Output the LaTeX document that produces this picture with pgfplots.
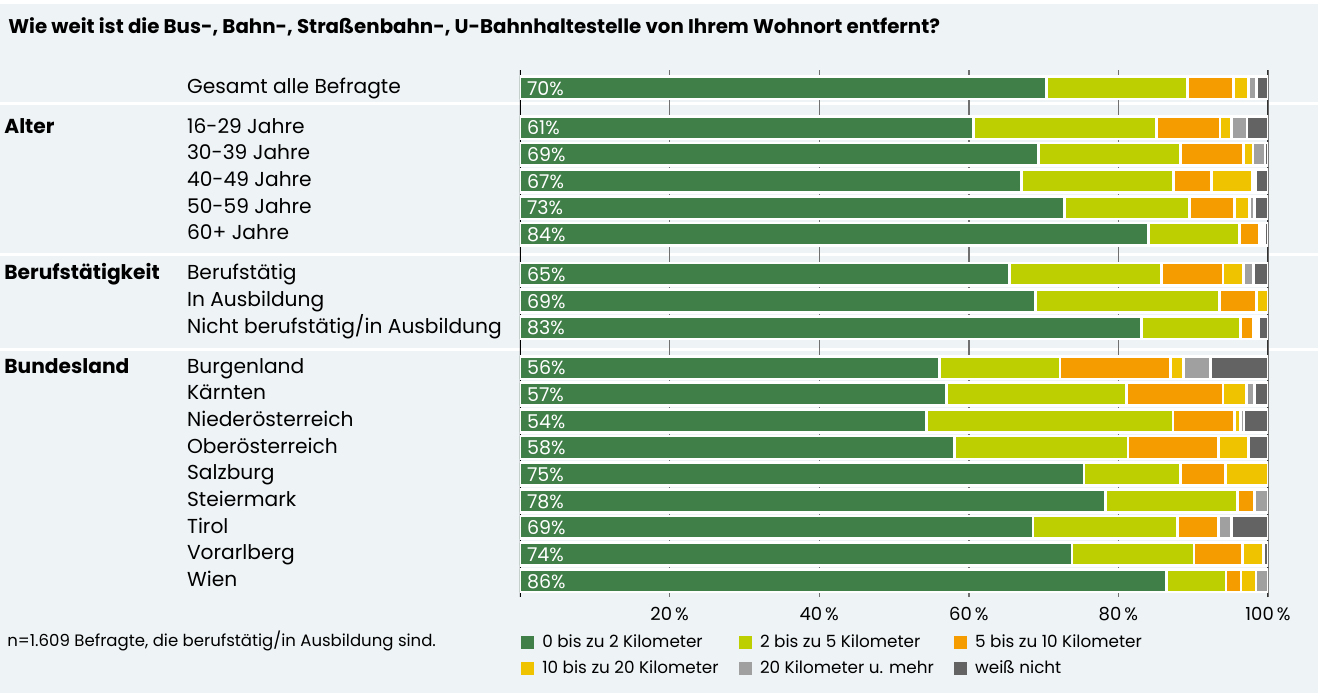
\documentclass[border=0pt]{standalone}
\usepackage{fontspec}
\setmainfont{Poppins}
\usepackage{pgfplots}
\usepackage{pgfplotstable}
\pgfplotsset{compat=1.18}
\definecolor{bg}{HTML}{EEF3F6}
\definecolor{cg}{HTML}{407F48}
\definecolor{cl}{HTML}{BDCF00}
\definecolor{co}{HTML}{F59C00}
\definecolor{cy}{HTML}{EFC300}
\definecolor{cgr}{HTML}{A0A0A0}
\definecolor{cd}{HTML}{636363}
\definecolor{gridc}{HTML}{707070}
\newcommand{\grp}[1]{\makebox[91.35pt][l]{\bfseries #1}}
\pgfplotstableread{
y    g    l    o    ye   gr   d    lab
0    70.4 18.8 6.2  2.0  1.1  1.5  70
1.5  60.6 24.5 8.5  1.5  2.1  2.8  61
2.5  69.3 19.0 8.4  1.3  1.6  0.4  69
3.5  67.0 20.4 5.0  5.5  0.4  1.7  67
4.5  72.8 16.7 6.0  2.0  0.7  1.8  73
5.5  84.0 12.2 2.6  0.3  0.4  0.5  84
7    65.4 20.4 8.2  2.7  1.4  1.9  65
8    68.9 24.6 5.0  1.5  0.0  0.0  69
9    83.1 13.2 1.8  0.3  0.3  1.3  83
10.5 56.1 16.1 14.8 1.7  3.6  7.7  56
11.5 57.0 24.1 12.9 3.1  1.1  1.8  57
12.5 54.3 33.0 8.2  0.8  0.5  3.2  54
13.5 58.1 23.2 12.1 4.0  0.0  2.6  58
14.5 75.4 12.9 6.0  5.7  0.0  0.0  75
15.5 78.3 17.6 2.3  0.0  1.8  0.0  78
16.5 68.6 19.3 5.5  0.0  1.7  4.9  69
17.5 73.8 16.3 6.5  2.8  0.0  0.6  74
18.5 86.4 8.0  2.0  2.0  1.6  0.0  86
}\data
\pgfplotsset{common/.style={at={(260pt,48pt)}, anchor=south west,
  scale only axis, width=374pt, height=263.5pt,
  xmin=0, xmax=100, ymin=-0.664, ymax=19.11, y dir=reverse}}
\begin{document}
\begin{tikzpicture}
\fill[bg] (0,0) rectangle (659pt,346.5pt);
\fill[white] (0,344.5pt) rectangle (659pt,346.5pt);
\fill[white] (0,294.1pt) rectangle (659pt,295.6pt);
\fill[white] (0,218.6pt) rectangle (659pt,220.1pt);
\fill[white] (0,170.9pt) rectangle (659pt,172.4pt);
\node[anchor=base west, inner sep=0pt, font=\bfseries\fontsize{9.9}{11}\selectfont] at (4pt,329.85pt) {Wie weit ist die Bus-, Bahn-, Straßenbahn-, U-Bahnhaltestelle von Ihrem Wohnort entfernt?};
\node[anchor=base west, inner sep=0pt, font=\fontsize{8.27}{10}\selectfont] at (3.5pt,23.15pt) {n=1.609 Befragte, die berufstätig/in Ausbildung sind.};
\begin{axis}[
  common,
  xbar stacked, bar width=0.852,
  axis line style={draw=none},
  major tick length=0pt,
  xtick={20,40,60,80,100},
  xticklabels={20\,\%,40\,\%,60\,\%,80\,\%,100\,\%},
  xticklabel style={anchor=base, inner sep=0pt, yshift=-11.75pt, font=\fontsize{9}{10}\selectfont},
  xmajorgrids, grid style={gridc, line width=0.7pt},
  ytick={0,1.5,2.5,3.5,4.5,5.5,7,8,9,10.5,11.5,12.5,13.5,14.5,15.5,16.5,17.5,18.5},
  yticklabels={\grp{}Gesamt alle Befragte, \grp{Alter}16-29 Jahre, \grp{}30-39 Jahre, \grp{}40-49 Jahre, \grp{}50-59 Jahre, \grp{}60+ Jahre, \grp{Berufstätigkeit}Berufstätig, \grp{}In Ausbildung, \grp{}Nicht berufstätig/in Ausbildung, \grp{Bundesland}Burgenland, \grp{}Kärnten, \grp{}Niederösterreich, \grp{}Oberösterreich, \grp{}Salzburg, \grp{}Steiermark, \grp{}Tirol, \grp{}Vorarlberg, \grp{}Wien},
  yticklabel style={anchor=base west, inner sep=0pt, xshift=-258pt, yshift=-2.8pt, font=\fontsize{10.1}{12}\selectfont},
  legend columns=3, legend cell align=left,
  legend style={draw=none, fill=none, inner sep=0pt, outer sep=0pt, at={(0,0)}, anchor=north west, xshift=0.5pt, yshift=-18.5pt, row sep=5.15pt, column sep=0pt, font=\fontsize{8.4}{10}\selectfont, nodes={inner sep=0pt, text height=6.5pt, text depth=1.5pt}, /tikz/every even column/.append style={column sep=10pt}},
  legend image code/.code={\fill[#1, draw=none] (0pt,-3.25pt) rectangle (6.5pt,3.25pt); \path (10pt,0pt);},
  every axis plot/.append style={draw=white, line width=1.35pt},
]
\addplot[fill=cg] table[x=g, y=y] {\data}; \addlegendentry{0 bis zu 2 Kilometer}
\addplot[fill=cl] table[x=l, y=y] {\data}; \addlegendentry{2 bis zu 5 Kilometer}
\addplot[fill=co] table[x=o, y=y] {\data}; \addlegendentry{5 bis zu 10 Kilometer}
\addplot[fill=cy] table[x=ye, y=y] {\data}; \addlegendentry{10 bis zu 20 Kilometer}
\addplot[fill=cgr] table[x=gr, y=y] {\data}; \addlegendentry{20 Kilometer u. mehr}
\addplot[fill=cd] table[x=d, y=y] {\data}; \addlegendentry{weiß nicht}
\draw[black, line width=0.75pt] (rel axis cs:0,0) -- (rel axis cs:0,1);
\draw[black!80, line width=0.75pt] (rel axis cs:1,0) -- (rel axis cs:1,1);
\end{axis}
\begin{axis}[common, hide axis, clip=false]
\addplot[only marks, mark=*, mark size=0pt, mark options={draw=none, fill=none},
  point meta=explicit symbolic,
  nodes near coords={\pgfplotspointmeta\%},
  every node near coord/.style={anchor=base west, inner sep=0pt, xshift=3.35pt, yshift=-3.65pt, text=white, font=\fontsize{9.5}{10}\selectfont}]
  table[x expr=0, y=y, meta=lab] {\data};
\end{axis}
\end{tikzpicture}
\end{document}
